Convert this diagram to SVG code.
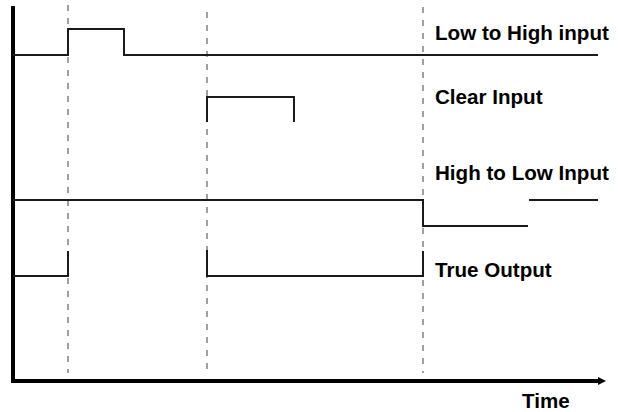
<svg xmlns="http://www.w3.org/2000/svg" width="618" height="412" viewBox="0 0 618 412">
<style>
.sig{fill:none;stroke:#1a1a1a;stroke-width:2;stroke-linejoin:miter}
.dash{fill:none;stroke:#a0a0a0;stroke-width:2;stroke-dasharray:6 7}
.axis{fill:none;stroke:#000;stroke-width:4}
.lbl{font-family:"Liberation Sans",Arial,sans-serif;font-weight:bold;font-size:20.6px;fill:#000}
</style>
<defs>
<marker id="arrow" markerWidth="10" markerHeight="10" refX="2" refY="4" orient="auto" markerUnits="userSpaceOnUse" viewBox="0 0 10 8">
<path d="M0,0 L8,4 L0,8 Z" fill="#000"/>
</marker>
</defs>
<g id="guides">
<line class="dash" x1="68" y1="5" x2="68" y2="373"/>
<line class="dash" x1="207" y1="12" x2="207" y2="373"/>
<line class="dash" x1="423" y1="7" x2="423" y2="373"/>
</g>
<g id="axes">
<line class="axis" x1="13" y1="6" x2="13" y2="383"/>
<line class="axis" x1="11" y1="381" x2="600" y2="381" marker-end="url(#arrow)"/>
</g>
<g id="low-to-high">
<polyline class="sig" points="13,55 68,55 68,29 124,29 124,55 598,55"/>
<text class="lbl" x="435" y="40">Low to High input</text>
</g>
<g id="clear">
<polyline class="sig" points="207,122 207,97 294,97 294,122"/>
<text class="lbl" x="435" y="104">Clear Input</text>
</g>
<g id="high-to-low">
<polyline class="sig" points="13,200 423,200 423,226 528,226"/>
<line class="sig" x1="529" y1="200" x2="598" y2="200"/>
<text class="lbl" x="435" y="180">High to Low Input</text>
</g>
<g id="true-output">
<polyline class="sig" points="13,276 68,276 68,251"/>
<polyline class="sig" points="207,250 207,276 423,276 423,251"/>
<text class="lbl" x="435" y="277">True Output</text>
</g>
<g id="time">
<text class="lbl" x="522" y="408">Time</text>
</g>
</svg>
